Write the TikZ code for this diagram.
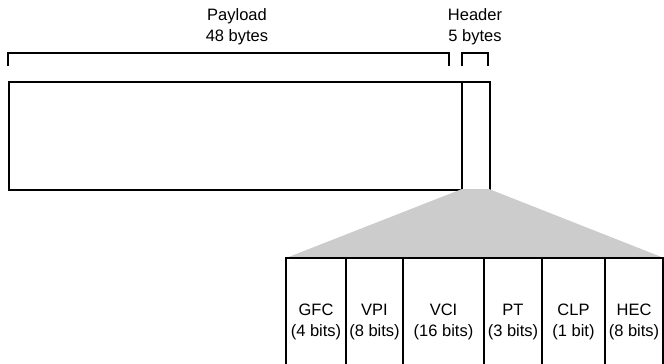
\documentclass[tikz,border=0pt]{standalone}
\usepackage{fontspec}
\setmainfont{Liberation Sans}
\begin{document}
\begin{tikzpicture}[x=1pt,y=-1pt,
  frame/.style={draw=black,line width=2.2pt},
  lbl/.style={inner sep=0pt,align=center,font=\fontsize{16.5}{21}\selectfont}]
\useasboundingbox (0,0) rectangle (664,364);
% labels
\node[lbl] (plab) at (237,27) {Payload\\48 bytes};
\node[lbl] (hlab) at (475,27) {Header\\5 bytes};
% brackets
\coordinate (pb1) at (8,66);
\coordinate (pb2) at (449,66);
\coordinate (hb1) at (462,66);
\coordinate (hb2) at (488,66);
\draw[frame,line cap=butt] (pb1) -- ++(0,-13) -| (pb2);
\draw[frame,line cap=butt] (hb1) -- ++(0,-13) -| (hb2);
% cell
\node[frame,anchor=north west,minimum width=481pt,minimum height=108pt,inner sep=0pt] (cell) at (8,81) {};
\coordinate (hd1) at (462,81);
\coordinate (hd2) at (462,189);
\draw[frame] (hd1) -- (hd2);
% fan
\coordinate (ft1) at (462,189);
\coordinate (ft2) at (489,189);
\coordinate (fb1) at (286,258);
\coordinate (fb2) at (664,258);
\fill[gray!40] (ft1) -- (ft2) -- (fb2) -- (fb1) -- cycle;
% fields
\draw[frame] (286,370) -- (286,258) -- (664,258);
\foreach \xx in {346,403,484,542,605,663}{\draw[frame] (\xx,258) -- (\xx,370);}
\node[lbl] (gfc) at (316,322) {GFC\\(4 bits)};
\node[lbl] (vpi) at (374.5,322) {VPI\\(8 bits)};
\node[lbl] (vci) at (443.5,322) {VCI\\(16 bits)};
\node[lbl] (pt) at (513,322) {PT\\(3 bits)};
\node[lbl] (clp) at (573.5,322) {CLP\\(1 bit)};
\node[lbl] (hec) at (634,322) {HEC\\(8 bits)};
\end{tikzpicture}
\end{document}
